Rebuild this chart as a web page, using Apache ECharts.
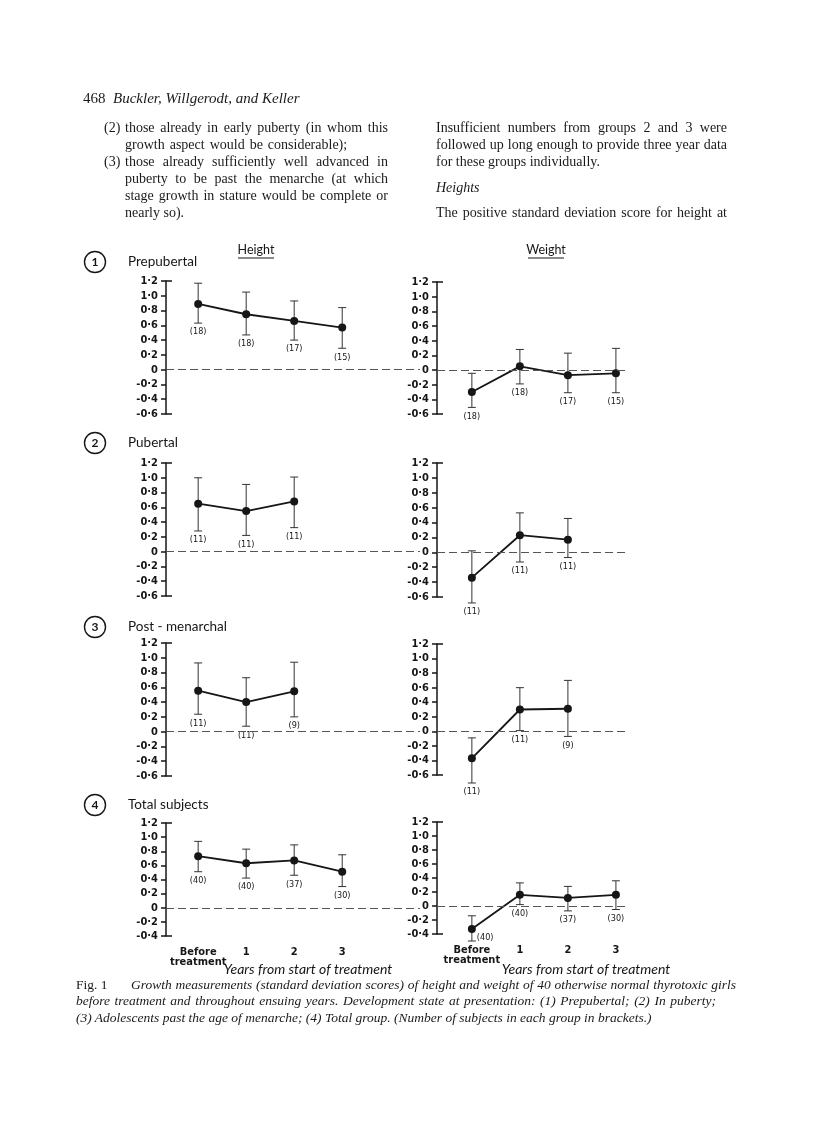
<!DOCTYPE html>
<html>
<head>
<meta charset="utf-8">
<script src="https://cdn.jsdelivr.net/npm/echarts@6/dist/echarts.min.js"></script>
<style>
html, body { margin: 0; padding: 0; background: #fff; }
#page { position: relative; width: 816px; height: 1128px; overflow: hidden; }
#chart { position: absolute; left: 0; top: 0; width: 816px; height: 1128px; }
.ln { position: absolute; white-space: nowrap; font-family: 'Liberation Serif', 'Times New Roman', serif;
      font-size: 14px; line-height: 17px; color: #1a1a1a; }
.j { text-align: justify; text-align-last: justify; }
.cap { font-size: 13.5px; line-height: 16px; }
</style>
</head>
<body>
<div id="page">
<div id="chart"></div>

<div class="ln" style="left:83px;top:90px;font-size:15px">468&nbsp;&nbsp;<i>Buckler, Willgerodt, and Keller</i></div>

<div class="ln" style="left:104px;top:119px">(2)</div>
<div class="ln j" style="left:125px;top:119px;width:263px">those already in early puberty (in whom this</div>
<div class="ln" style="left:125px;top:136px;word-spacing:1.5px">growth aspect would be considerable);</div>
<div class="ln" style="left:104px;top:153px">(3)</div>
<div class="ln j" style="left:125px;top:153px;width:263px">those already sufficiently well advanced in</div>
<div class="ln j" style="left:125px;top:170px;width:263px">puberty to be past the menarche (at which</div>
<div class="ln j" style="left:125px;top:187px;width:263px">stage growth in stature would be complete or</div>
<div class="ln" style="left:125px;top:204px">nearly so).</div>

<div class="ln j" style="left:436px;top:119px;width:291px">Insufficient numbers from groups 2 and 3 were</div>
<div class="ln j" style="left:436px;top:136px;width:291px">followed up long enough to provide three year data</div>
<div class="ln" style="left:436px;top:153px">for these groups individually.</div>
<div class="ln" style="left:436px;top:179px"><i>Heights</i></div>
<div class="ln j" style="left:436px;top:204px;width:291px">The positive standard deviation score for height at</div>

<div class="ln cap" style="left:76px;top:977px">Fig. 1</div>
<div class="ln cap j" style="left:131px;top:977px;width:605px"><i>Growth measurements (standard deviation scores) of height and weight of 40 otherwise normal thyrotoxic girls</i></div>
<div class="ln cap j" style="left:76px;top:993px;width:640px"><i>before treatment and throughout ensuing years. Development state at presentation: (1) Prepubertal; (2) In puberty;</i></div>
<div class="ln cap" style="left:76px;top:1010px"><i>(3) Adolescents past the age of menarche; (4) Total group. (Number of subjects in each group in brackets.)</i></div>
</div>

<script>
// x categories (years from start of treatment)
const xLabels = ['Before\ntreatment', '1', '2', '3'];
const panelTitles = ['Prepubertal', 'Pubertal', 'Post - menarchal', 'Total subjects'];

// (1) Prepubertal
const p1HeightMean  = [0.89, 0.75, 0.66, 0.57];
const p1HeightUpper = [1.17, 1.05, 0.93, 0.84];
const p1HeightLower = [0.63, 0.47, 0.40, 0.29];
const p1HeightN     = [18, 18, 17, 15];
const p1WeightMean  = [-0.30, 0.05, -0.07, -0.045];
const p1WeightUpper = [-0.045, 0.28, 0.23, 0.295];
const p1WeightLower = [-0.51, -0.19, -0.31, -0.31];
const p1WeightN     = [18, 18, 17, 15];

// (2) Pubertal
const p2HeightMean  = [0.65, 0.55, 0.68];
const p2HeightUpper = [1.00, 0.91, 1.01];
const p2HeightLower = [0.28, 0.22, 0.325];
const p2HeightN     = [11, 11, 11];
const p2WeightMean  = [-0.34, 0.23, 0.17];
const p2WeightUpper = [0.02, 0.53, 0.455];
const p2WeightLower = [-0.68, -0.13, -0.07];
const p2WeightN     = [11, 11, 11];

// (3) Post-menarchal
const p3HeightMean  = [0.555, 0.40, 0.546];
const p3HeightUpper = [0.93, 0.73, 0.94];
const p3HeightLower = [0.236, 0.074, 0.20];
const p3HeightN     = [11, 11, 9];
const p3WeightMean  = [-0.37, 0.30, 0.31];
const p3WeightUpper = [-0.09, 0.60, 0.70];
const p3WeightLower = [-0.71, 0.01, -0.07];
const p3WeightN     = [11, 11, 9];

// (4) Total subjects
const p4HeightMean  = [0.73, 0.63, 0.67, 0.51];
const p4HeightUpper = [0.94, 0.83, 0.89, 0.75];
const p4HeightLower = [0.51, 0.42, 0.46, 0.30];
const p4HeightN     = [40, 40, 37, 30];
const p4WeightMean  = [-0.33, 0.16, 0.115, 0.16];
const p4WeightUpper = [-0.14, 0.33, 0.28, 0.36];
const p4WeightLower = [-0.50, 0.02, -0.07, -0.05];
const p4WeightN     = [40, 40, 37, 30];

const condensed = '"DejaVu Sans Condensed", "Liberation Sans Narrow", sans-serif';
const ink = '#161616';

const chart = echarts.init(document.getElementById('chart'));
const option = { animation: false, grid: [], xAxis: [], yAxis: [], series: [], graphic: [] };

function fmtTick(v) {
	const r = Math.round(v * 10) / 10;
	if (r === 0) return '0';
	return r.toFixed(1).replace('.', '\u00b7');
}

function errorBars(params, api) {
	const x = api.value(0);
	const lo = api.coord([x, api.value(1)]);
	const hi = api.coord([x, api.value(2)]);
	const toRight = api.value(4) === 1;
	const cap = 4;
	const st = { stroke: '#333', lineWidth: 1 };
	return {
		type: 'group',
		children: [
			{ type: 'line', shape: { x1: lo[0], y1: lo[1], x2: hi[0], y2: hi[1] }, style: st },
			{ type: 'line', shape: { x1: hi[0] - cap, y1: hi[1], x2: hi[0] + cap, y2: hi[1] }, style: st },
			{ type: 'line', shape: { x1: lo[0] - cap, y1: lo[1], x2: lo[0] + cap, y2: lo[1] }, style: st },
			{
				type: 'text',
				x: toRight ? lo[0] + 5 : lo[0],
				y: toRight ? lo[1] - 3 : lo[1] + 9,
				style: {
					text: '(' + api.value(3) + ')',
					textAlign: toRight ? 'left' : 'center',
					textVerticalAlign: 'middle',
					font: '9px ' + condensed,
					fill: ink
				}
			}
		]
	};
}

function addChart(box, yMin, mean, upper, lower, n, withX, rightIdx) {
	const gi = option.grid.length;
	option.grid.push({ left: box.left, top: box.top, width: box.width, height: box.height });
	option.xAxis.push({
		type: 'value', gridIndex: gi, min: box.xMin, max: box.xMax, position: 'bottom',
		axisLine: { show: false, onZero: false }, axisTick: { show: false }, splitLine: { show: false },
		axisLabel: {
			show: withX, customValues: [0, 1, 2, 3], formatter: v => xLabels[v],
			margin: 11, color: ink, fontFamily: condensed, fontWeight: 'bold', fontSize: 11, lineHeight: 10
		}
	});
	const ya = option.yAxis.length;
	option.yAxis.push({
		type: 'value', gridIndex: gi, min: yMin, max: 1.2, interval: 0.2, position: 'left',
		axisLine: { show: true, onZero: false, lineStyle: { color: ink, width: 1.5 } },
		axisTick: { show: true, length: 5, lineStyle: { color: ink, width: 1.5 } },
		axisLabel: { formatter: fmtTick, margin: 8, color: ink, fontFamily: condensed, fontWeight: 'bold', fontSize: 11 },
		splitLine: { show: false }
	});
	// end caps of the axis bracket
	option.yAxis.push({
		type: 'value', gridIndex: gi, min: yMin, max: 1.2, position: 'left', offset: 0,
		axisLine: { show: false, onZero: false }, axisLabel: { show: false }, splitLine: { show: false },
		axisTick: { show: true, inside: true, length: 6, customValues: [yMin, 1.2], lineStyle: { color: ink, width: 1.5 } }
	});
	option.series.push({
		type: 'custom', xAxisIndex: gi, yAxisIndex: ya, silent: true, z: 2,
		renderItem: errorBars,
		encode: { x: 0, y: [1, 2] },
		data: mean.map((m, i) => [i, lower[i], upper[i], n[i], rightIdx.includes(i) ? 1 : 0])
	});
	option.series.push({
		type: 'line', xAxisIndex: gi, yAxisIndex: ya, silent: true, z: 3,
		data: mean.map((m, i) => [i, m]),
		symbol: 'circle', symbolSize: 8,
		itemStyle: { color: ink },
		lineStyle: { color: ink, width: 1.8 },
		markLine: {
			silent: true, symbol: 'none', label: { show: false },
			lineStyle: { type: [8, 4], color: '#555', width: 1 },
			data: [{ yAxis: 0 }]
		}
	});
}

const heightBoxes = [
	{ top: 281, height: 133 }, { top: 463, height: 133 }, { top: 643, height: 133 }, { top: 823, height: 113 }
];
const weightBoxes = [
	{ top: 282, height: 132 }, { top: 463, height: 134 }, { top: 644, height: 131 }, { top: 822, height: 112 }
];
heightBoxes.forEach(b => Object.assign(b, { left: 166, width: 254, xMin: -0.67, xMax: 4.62 }));
weightBoxes.forEach(b => Object.assign(b, { left: 437, width: 189, xMin: -0.726, xMax: 3.21 }));

addChart(heightBoxes[0], -0.6, p1HeightMean, p1HeightUpper, p1HeightLower, p1HeightN, false, []);
addChart(weightBoxes[0], -0.6, p1WeightMean, p1WeightUpper, p1WeightLower, p1WeightN, false, []);
addChart(heightBoxes[1], -0.6, p2HeightMean, p2HeightUpper, p2HeightLower, p2HeightN, false, []);
addChart(weightBoxes[1], -0.6, p2WeightMean, p2WeightUpper, p2WeightLower, p2WeightN, false, []);
addChart(heightBoxes[2], -0.6, p3HeightMean, p3HeightUpper, p3HeightLower, p3HeightN, false, []);
addChart(weightBoxes[2], -0.6, p3WeightMean, p3WeightUpper, p3WeightLower, p3WeightN, false, []);
addChart(heightBoxes[3], -0.4, p4HeightMean, p4HeightUpper, p4HeightLower, p4HeightN, true, []);
addChart(weightBoxes[3], -0.4, p4WeightMean, p4WeightUpper, p4WeightLower, p4WeightN, true, [0]);

// panel headings: circled number + group name
const headY = [262, 443, 627, 805];
panelTitles.forEach((t, i) => {
	option.graphic.push({ type: 'circle', shape: { cx: 95, cy: headY[i], r: 10.5 }, style: { fill: 'none', stroke: ink, lineWidth: 1.4 } });
	option.graphic.push({ type: 'text', x: 95, y: headY[i], style: { text: String(i + 1), textAlign: 'center', textVerticalAlign: 'middle', font: 'bold 12px Lato', fill: ink } });
	option.graphic.push({ type: 'text', x: 128, y: headY[i], style: { text: t, textVerticalAlign: 'middle', font: '13.5px Lato', fill: ink } });
});

// column headings
[['Height', 256], ['Weight', 546]].forEach(([t, cx]) => {
	option.graphic.push({ type: 'text', x: cx, y: 250, style: { text: t, textAlign: 'center', textVerticalAlign: 'middle', font: '12.5px Lato', fill: ink } });
	option.graphic.push({ type: 'line', shape: { x1: cx - 18, y1: 258, x2: cx + 18, y2: 258 }, style: { stroke: ink, lineWidth: 1 } });
});

// x axis titles under the total-subjects panels
[308, 586].forEach(cx => {
	option.graphic.push({ type: 'text', x: cx, y: 969, style: { text: 'Years from start of treatment', textAlign: 'center', textVerticalAlign: 'middle', font: 'italic 14px Lato', fill: ink } });
});

chart.setOption(option);
</script>
</body>
</html>
